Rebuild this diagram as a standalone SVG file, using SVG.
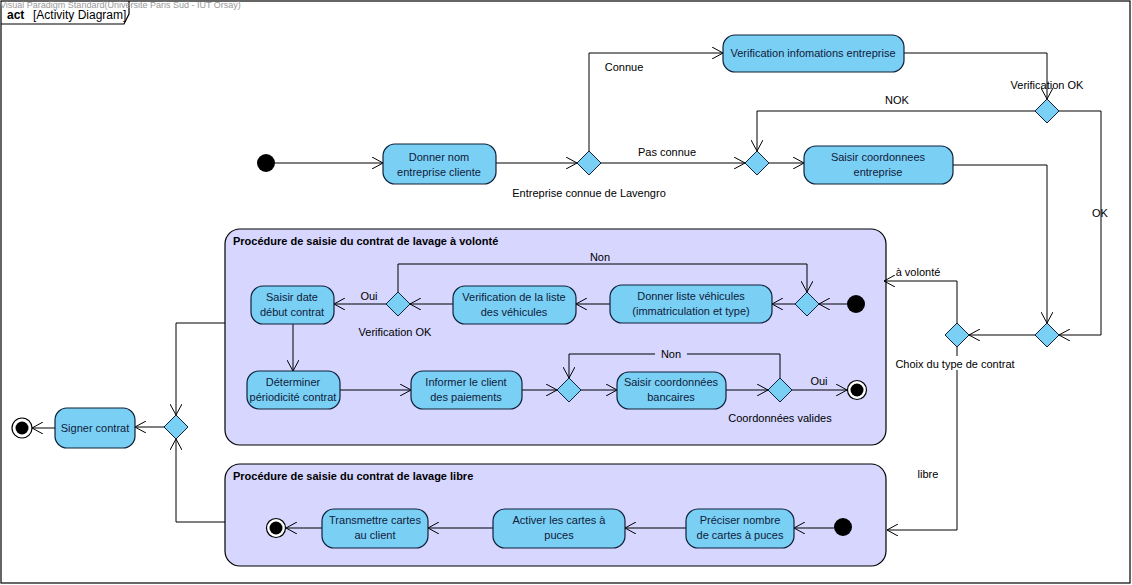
<svg xmlns="http://www.w3.org/2000/svg" width="1132" height="585" viewBox="0 0 1132 585">
<style>
.node{fill:#7ACFF5;stroke:#10203A;stroke-width:1.2}
.dec{fill:#7ACFF5;stroke:#10203A;stroke-width:1}
.part{fill:#D6D6FF;stroke:#000;stroke-width:1.2}
.t{font-family:"Liberation Sans",Arial,sans-serif;font-size:11px;fill:#10203A;text-anchor:middle}
.lbl{font-family:"Liberation Sans",Arial,sans-serif;font-size:11px;fill:#000;text-anchor:middle}
.ttl{font-family:"Liberation Sans",Arial,sans-serif;font-size:11px;font-weight:bold;fill:#000}
.c{fill:none;stroke:#000;stroke-width:1;marker-end:url(#arr)}
</style>
<defs>
<marker id="arr" viewBox="0 0 12 12" refX="11" refY="6" markerWidth="12" markerHeight="12" markerUnits="userSpaceOnUse" orient="auto">
<path d="M0,0 L11,6 L0,12" fill="none" stroke="#000" stroke-width="1"/>
</marker>
</defs>
<rect x="0" y="0" width="1132" height="585" fill="#fff"/>
<g id="frame">
<rect x="1" y="1" width="1129" height="582" fill="none" stroke="#000" stroke-width="1.2"/>
<path d="M1,24 L124,24 L129,14 L129,1" fill="none" stroke="#000" stroke-width="1.2"/>
<text x="0" y="8" font-family="Liberation Sans,Arial,sans-serif" font-size="9" fill="#999">Visual Paradigm Standard(Universite Paris Sud - IUT Orsay)</text>
<text x="7" y="19" font-family="Liberation Sans,Arial,sans-serif" font-size="12" font-weight="bold" fill="#000">act</text>
<text x="33" y="19" font-family="Liberation Sans,Arial,sans-serif" font-size="12" fill="#000">[Activity Diagram]</text>
</g>
<g id="partition-volonte">
<rect class="part" x="225" y="229" width="661" height="216" rx="15"/>
<text class="ttl" x="233" y="245">Procédure de saisie du contrat de lavage à volonté</text>
</g>
<g id="partition-libre">
<rect class="part" x="225" y="464" width="661" height="102" rx="15"/>
<text class="ttl" x="233" y="480">Procédure de saisie du contrat de lavage libre</text>
</g>
<g id="connectors">
<path class="c" d="M275,163 L383,163"/>
<path class="c" d="M496,163 L577,163"/>
<path class="c" d="M589,151 L589,53 L723,53"/>
<path class="c" d="M601,163 L745,163"/>
<path class="c" d="M769,163 L804,163"/>
<path class="c" d="M904,53 L1047,53 L1047,99"/>
<path class="c" d="M1035,111 L757,111 L757,151"/>
<path class="c" d="M1059,111 L1101,111 L1101,335 L1059,335"/>
<path class="c" d="M953,165 L1047,165 L1047,323"/>
<path class="c" d="M1035,335 L969,335"/>
<path class="c" d="M957,323 L957,281 L884,281"/>
<path class="c" d="M957,347 L957,530 L887,530"/>
<path class="c" d="M847,304 L819,304"/>
<path class="c" d="M795,304 L772,304"/>
<path class="c" d="M610,304 L576,304"/>
<path class="c" d="M453,304 L410,304"/>
<path class="c" d="M386,304 L334,304"/>
<path class="c" d="M398,292 L398,264 L807,264 L807,292"/>
<path class="c" d="M293,324 L293,371"/>
<path class="c" d="M340,390 L411,390"/>
<path class="c" d="M522,390 L557,390"/>
<path class="c" d="M581,390 L617,390"/>
<path class="c" d="M726,390 L768,390"/>
<path class="c" d="M792,390 L847,390"/>
<path class="c" d="M780,378 L780,354 L569,354 L569,378"/>
<path class="c" d="M834,528 L794,528"/>
<path class="c" d="M686,528 L625,528"/>
<path class="c" d="M493,528 L428,528"/>
<path class="c" d="M322,528 L286,528"/>
<path class="c" d="M225,323 L176,323 L176,415"/>
<path class="c" d="M225,522 L176,522 L176,439"/>
<path class="c" d="M164,427 L135,427"/>
<path class="c" d="M55,428 L32,428"/>
</g>
<g id="labels">
<text class="lbl" x="624" y="71">Connue</text>
<text class="lbl" x="667" y="156">Pas connue</text>
<text class="lbl" x="589" y="197">Entreprise connue de Lavengro</text>
<text class="lbl" x="1047" y="89">Verification OK</text>
<text class="lbl" x="897" y="104">NOK</text>
<text class="lbl" x="1100" y="217">OK</text>
<text class="lbl" x="918" y="276">à volonté</text>
<rect x="893" y="356" width="124" height="14" fill="#fff"/>
<text class="lbl" x="955" y="368">Choix du type de contrat</text>
<text class="lbl" x="928" y="478">libre</text>
<text class="lbl" x="600" y="261">Non</text>
<text class="lbl" x="369" y="300">Oui</text>
<text class="lbl" x="395" y="336">Verification OK</text>
<rect x="655" y="347" width="32" height="14" fill="#D6D6FF"/>
<text class="lbl" x="671" y="358">Non</text>
<text class="lbl" x="819" y="385">Oui</text>
<text class="lbl" x="780" y="422">Coordonnées valides</text>
</g>
<g id="initial-main"><circle cx="266" cy="163" r="9" fill="#000"/></g>
<g id="donner-nom">
<rect class="node" x="383" y="144" width="113" height="40" rx="12"/>
<text class="t" x="439" y="161">Donner nom</text>
<text class="t" x="439" y="176">entreprise cliente</text>
</g>
<g id="dec-connue"><path class="dec" d="M589,151 L601,163 L589,175 L577,163 Z"/></g>
<g id="verif-entreprise">
<rect class="node" x="723" y="35" width="181" height="37" rx="12"/>
<text class="t" x="813" y="57">Verification infomations entreprise</text>
</g>
<g id="merge-saisie"><path class="dec" d="M757,151 L769,163 L757,175 L745,163 Z"/></g>
<g id="saisir-coord">
<rect class="node" x="804" y="146" width="149" height="38" rx="12"/>
<text class="t" x="878" y="161">Saisir coordonnees</text>
<text class="t" x="878" y="176">entreprise</text>
</g>
<g id="dec-verif"><path class="dec" d="M1047,99 L1059,111 L1047,123 L1035,111 Z"/></g>
<g id="merge-choix"><path class="dec" d="M1047,323 L1059,335 L1047,347 L1035,335 Z"/></g>
<g id="dec-choix"><path class="dec" d="M957,323 L969,335 L957,347 L945,335 Z"/></g>
<g id="initial-volonte"><circle cx="856" cy="304" r="9" fill="#000"/></g>
<g id="merge-vehicules"><path class="dec" d="M807,292 L819,304 L807,316 L795,304 Z"/></g>
<g id="donner-liste">
<rect class="node" x="610" y="285" width="162" height="38" rx="12"/>
<text class="t" x="691" y="300">Donner liste véhicules</text>
<text class="t" x="691" y="315">(immatriculation et type)</text>
</g>
<g id="verif-liste">
<rect class="node" x="453" y="286" width="123" height="38" rx="12"/>
<text class="t" x="514" y="301">Verification de la liste</text>
<text class="t" x="514" y="316">des véhicules</text>
</g>
<g id="dec-liste"><path class="dec" d="M398,292 L410,304 L398,316 L386,304 Z"/></g>
<g id="saisir-date">
<rect class="node" x="251" y="286" width="83" height="38" rx="12"/>
<text class="t" x="292" y="301">Saisir date</text>
<text class="t" x="292" y="316">début contrat</text>
</g>
<g id="determiner">
<rect class="node" x="247" y="371" width="93" height="38" rx="12"/>
<text class="t" x="293" y="386">Déterminer</text>
<text class="t" x="293" y="401">périodicité contrat</text>
</g>
<g id="informer">
<rect class="node" x="411" y="371" width="111" height="38" rx="12"/>
<text class="t" x="466" y="386">Informer le client</text>
<text class="t" x="466" y="401">des paiements</text>
</g>
<g id="merge-bancaires"><path class="dec" d="M569,378 L581,390 L569,402 L557,390 Z"/></g>
<g id="saisir-bancaires">
<rect class="node" x="617" y="372" width="109" height="37" rx="12"/>
<text class="t" x="671" y="386">Saisir coordonnées</text>
<text class="t" x="671" y="401">bancaires</text>
</g>
<g id="dec-valides"><path class="dec" d="M780,378 L792,390 L780,402 L768,390 Z"/></g>
<g id="final-volonte"><circle cx="857" cy="390" r="9.5" fill="#fff" stroke="#000" stroke-width="1.2"/><circle cx="857" cy="390" r="6.5" fill="#000"/></g>
<g id="initial-libre"><circle cx="843" cy="527" r="9" fill="#000"/></g>
<g id="preciser">
<rect class="node" x="686" y="509" width="108" height="39" rx="12"/>
<text class="t" x="740" y="524">Préciser nombre</text>
<text class="t" x="740" y="539">de cartes à puces</text>
</g>
<g id="activer">
<rect class="node" x="493" y="509" width="132" height="39" rx="12"/>
<text class="t" x="559" y="524">Activer les cartes à</text>
<text class="t" x="559" y="539">puces</text>
</g>
<g id="transmettre">
<rect class="node" x="322" y="509" width="106" height="39" rx="12"/>
<text class="t" x="375" y="524">Transmettre cartes</text>
<text class="t" x="375" y="539">au client</text>
</g>
<g id="final-libre"><circle cx="276" cy="528" r="9.5" fill="#fff" stroke="#000" stroke-width="1.2"/><circle cx="276" cy="528" r="6.5" fill="#000"/></g>
<g id="merge-signer"><path class="dec" d="M176,415 L188,427 L176,439 L164,427 Z"/></g>
<g id="signer">
<rect class="node" x="55" y="408" width="80" height="40" rx="12"/>
<text class="t" x="95" y="432">Signer contrat</text>
</g>
<g id="final-main"><circle cx="22" cy="428" r="10" fill="#fff" stroke="#000" stroke-width="1.2"/><circle cx="22" cy="428" r="6.5" fill="#000"/></g>
</svg>
